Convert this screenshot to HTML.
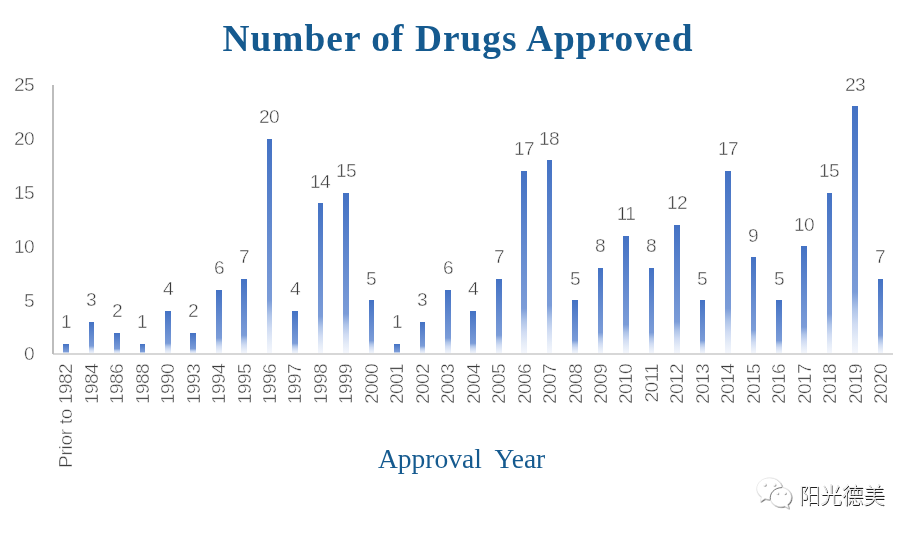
<!DOCTYPE html>
<html lang="en">
<head>
<meta charset="utf-8">
<title>Number of Drugs Approved</title>
<style>
html,body{margin:0;padding:0;background:#fff;}
body{width:916px;height:535px;position:relative;overflow:hidden;font-family:"Liberation Sans","Noto Sans CJK SC",sans-serif;}
#title,#xtitle,.num,.yt,.xl,#wm{will-change:transform;}
.num,.yt,.xl{font-size:19.2px;letter-spacing:-0.7px;line-height:20px;height:20px;color:#3b3b3b;-webkit-text-stroke:0.5px #fff;white-space:nowrap;}
#title{position:absolute;left:-0.3px;top:16.6px;width:916px;text-align:center;font-family:"Liberation Serif","Noto Serif CJK SC",serif;font-weight:bold;font-size:37.33px;line-height:44px;letter-spacing:1.06px;color:#155a8f;white-space:nowrap;}
#xtitle{position:absolute;left:378px;top:443px;font-family:"Liberation Serif","Noto Serif CJK SC",serif;font-size:27.5px;line-height:32px;color:#155a8f;white-space:pre;}
.ax{position:absolute;}
.bar{position:absolute;background:linear-gradient(to bottom,#4472c4 0%,#7b9cd8 75%,#b0c5e9 82%,#d0dcf3 88%,#e5ecf8 94%,#f6f8fd 100%);}
.num{position:absolute;width:40px;text-align:center;}
.yt{position:absolute;left:0;width:34px;text-align:right;}
.xl{position:absolute;width:130px;text-align:right;transform-origin:100% 0;transform:rotate(-90deg);}
#wm{position:absolute;left:798.6px;top:480.7px;font-family:"Liberation Sans","Noto Sans CJK SC",sans-serif;font-size:21.5px;line-height:30px;color:#fff;white-space:nowrap;font-weight:300;-webkit-text-stroke:0.2px #b0b0b0;text-shadow:0.85px 0.85px 0.3px rgba(0,0,0,.88);}
#wx{position:absolute;left:752px;top:474px;}
</style>
</head>
<body>
<div id="title">Number of Drugs Approved</div>

<div class="yt" style="top:75.05px">25</div>
<div class="yt" style="top:129.15px">20</div>
<div class="yt" style="top:183.05px">15</div>
<div class="yt" style="top:237.15px">10</div>
<div class="yt" style="top:291.05px">5</div>
<div class="yt" style="top:344.15px">0</div>
<div class="bar" style="left:63px;top:344px;width:6px;height:10px"></div>
<div class="bar" style="left:89px;top:322px;width:5px;height:32px"></div>
<div class="bar" style="left:114px;top:333px;width:6px;height:21px"></div>
<div class="bar" style="left:140px;top:344px;width:5px;height:10px"></div>
<div class="bar" style="left:165px;top:311px;width:6px;height:43px"></div>
<div class="bar" style="left:190px;top:333px;width:6px;height:21px"></div>
<div class="bar" style="left:216px;top:290px;width:6px;height:64px"></div>
<div class="bar" style="left:241px;top:279px;width:6px;height:75px"></div>
<div class="bar" style="left:267px;top:139px;width:5px;height:215px"></div>
<div class="bar" style="left:292px;top:311px;width:6px;height:43px"></div>
<div class="bar" style="left:318px;top:203px;width:5px;height:151px"></div>
<div class="bar" style="left:343px;top:193px;width:6px;height:161px"></div>
<div class="bar" style="left:369px;top:300px;width:5px;height:54px"></div>
<div class="bar" style="left:394px;top:344px;width:6px;height:10px"></div>
<div class="bar" style="left:420px;top:322px;width:5px;height:32px"></div>
<div class="bar" style="left:445px;top:290px;width:6px;height:64px"></div>
<div class="bar" style="left:470px;top:311px;width:6px;height:43px"></div>
<div class="bar" style="left:496px;top:279px;width:6px;height:75px"></div>
<div class="bar" style="left:521px;top:171px;width:6px;height:183px"></div>
<div class="bar" style="left:547px;top:160px;width:5px;height:194px"></div>
<div class="bar" style="left:572px;top:300px;width:6px;height:54px"></div>
<div class="bar" style="left:598px;top:268px;width:5px;height:86px"></div>
<div class="bar" style="left:623px;top:236px;width:6px;height:118px"></div>
<div class="bar" style="left:649px;top:268px;width:5px;height:86px"></div>
<div class="bar" style="left:674px;top:225px;width:6px;height:129px"></div>
<div class="bar" style="left:700px;top:300px;width:5px;height:54px"></div>
<div class="bar" style="left:725px;top:171px;width:6px;height:183px"></div>
<div class="bar" style="left:751px;top:257px;width:5px;height:97px"></div>
<div class="bar" style="left:776px;top:300px;width:6px;height:54px"></div>
<div class="bar" style="left:801px;top:246px;width:6px;height:108px"></div>
<div class="bar" style="left:827px;top:193px;width:5px;height:161px"></div>
<div class="bar" style="left:852px;top:106px;width:6px;height:248px"></div>
<div class="bar" style="left:878px;top:279px;width:5px;height:75px"></div>
<div class="ax" style="left:53px;top:353.1px;width:840px;height:1.8px;background:#d7d7d7"></div>
<div class="ax" style="left:52.1px;top:85px;width:1.9px;height:269.3px;background:#bdbdbd"></div>
<div class="num" style="left:45.70px;top:311.95px">1</div>
<div class="num" style="left:70.70px;top:289.95px">3</div>
<div class="num" style="left:96.70px;top:300.95px">2</div>
<div class="num" style="left:121.70px;top:311.95px">1</div>
<div class="num" style="left:147.70px;top:278.95px">4</div>
<div class="num" style="left:172.70px;top:300.95px">2</div>
<div class="num" style="left:198.70px;top:257.95px">6</div>
<div class="num" style="left:223.70px;top:246.95px">7</div>
<div class="num" style="left:248.70px;top:106.95px">20</div>
<div class="num" style="left:274.70px;top:278.95px">4</div>
<div class="num" style="left:299.70px;top:171.95px">14</div>
<div class="num" style="left:325.70px;top:160.95px">15</div>
<div class="num" style="left:350.70px;top:268.95px">5</div>
<div class="num" style="left:376.70px;top:311.95px">1</div>
<div class="num" style="left:401.70px;top:289.95px">3</div>
<div class="num" style="left:427.70px;top:257.95px">6</div>
<div class="num" style="left:452.70px;top:278.95px">4</div>
<div class="num" style="left:478.70px;top:246.95px">7</div>
<div class="num" style="left:503.70px;top:138.95px">17</div>
<div class="num" style="left:528.70px;top:128.95px">18</div>
<div class="num" style="left:554.70px;top:268.95px">5</div>
<div class="num" style="left:579.70px;top:235.95px">8</div>
<div class="num" style="left:605.70px;top:203.95px">11</div>
<div class="num" style="left:630.70px;top:235.95px">8</div>
<div class="num" style="left:656.70px;top:192.95px">12</div>
<div class="num" style="left:681.70px;top:268.95px">5</div>
<div class="num" style="left:707.70px;top:138.95px">17</div>
<div class="num" style="left:732.70px;top:225.95px">9</div>
<div class="num" style="left:758.70px;top:268.95px">5</div>
<div class="num" style="left:783.70px;top:214.95px">10</div>
<div class="num" style="left:808.70px;top:160.95px">15</div>
<div class="num" style="left:834.70px;top:74.95px">23</div>
<div class="num" style="left:859.70px;top:246.95px">7</div>
<div class="xl" style="left:-73.60px;top:364.20px"><span style="letter-spacing:-0.35px">Prior to </span>1982</div>
<div class="xl" style="left:-48.14px;top:364.20px">1984</div>
<div class="xl" style="left:-22.69px;top:364.20px">1986</div>
<div class="xl" style="left:2.77px;top:364.20px">1988</div>
<div class="xl" style="left:28.22px;top:364.20px">1990</div>
<div class="xl" style="left:53.67px;top:364.20px">1993</div>
<div class="xl" style="left:79.13px;top:364.20px">1994</div>
<div class="xl" style="left:104.59px;top:364.20px">1995</div>
<div class="xl" style="left:130.04px;top:364.20px">1996</div>
<div class="xl" style="left:155.49px;top:364.20px">1997</div>
<div class="xl" style="left:180.95px;top:364.20px">1998</div>
<div class="xl" style="left:206.40px;top:364.20px">1999</div>
<div class="xl" style="left:231.86px;top:364.20px">2000</div>
<div class="xl" style="left:257.31px;top:364.20px">2001</div>
<div class="xl" style="left:282.77px;top:364.20px">2002</div>
<div class="xl" style="left:308.22px;top:364.20px">2003</div>
<div class="xl" style="left:333.68px;top:364.20px">2004</div>
<div class="xl" style="left:359.13px;top:364.20px">2005</div>
<div class="xl" style="left:384.59px;top:364.20px">2006</div>
<div class="xl" style="left:410.04px;top:364.20px">2007</div>
<div class="xl" style="left:435.50px;top:364.20px">2008</div>
<div class="xl" style="left:460.95px;top:364.20px">2009</div>
<div class="xl" style="left:486.41px;top:364.20px">2010</div>
<div class="xl" style="left:511.86px;top:364.20px">2011</div>
<div class="xl" style="left:537.32px;top:364.20px">2012</div>
<div class="xl" style="left:562.77px;top:364.20px">2013</div>
<div class="xl" style="left:588.23px;top:364.20px">2014</div>
<div class="xl" style="left:613.68px;top:364.20px">2015</div>
<div class="xl" style="left:639.14px;top:364.20px">2016</div>
<div class="xl" style="left:664.59px;top:364.20px">2017</div>
<div class="xl" style="left:690.05px;top:364.20px">2018</div>
<div class="xl" style="left:715.50px;top:364.20px">2019</div>
<div class="xl" style="left:740.96px;top:364.20px">2020</div>
<div id="xtitle">Approval  Year</div>
<svg id="wx" width="46" height="40" viewBox="0 0 46 40">
<defs><filter id="sh" x="-20%" y="-20%" width="140%" height="140%"><feDropShadow dx="0.75" dy="0.75" stdDeviation="0.28" flood-color="#000" flood-opacity="0.78"/></filter></defs>
<g filter="url(#sh)" fill="#fff" stroke="#dcdcdc" stroke-width="0.5">
<path d="M17.4 3.900c-7 0-12.600 4.800-12.600 10.700 0 3.300 1.800 6.200 4.600 8.200l-1 4.700 4.600-2.900c1.400.5 2.900.7 4.400.7 7 0 12.600-4.800 12.600-10.700S24.400 3.900 17.400 3.900z"/>
<path d="M28.700 13.500c-5.800 0-10.500 4.300-10.500 9.600s4.700 9.600 10.500 9.600c1.400 0 2.700-.2 3.900-.7l3.900 2.300-.9-3.700c2.200-1.800 3.600-4.500 3.600-7.500 0-5.300-4.700-9.600-10.500-9.600z"/>
</g>
<path d="M18.300 25.200c-.9-5.800 4-11.400 11.300-11.600" fill="none" stroke="#555" stroke-width="0.9" stroke-linecap="round" opacity="0.85"/>
<g fill="#fff" filter="url(#sh)" opacity="0.8">
<circle cx="12.500" cy="10.500" r="1.200"/><circle cx="22.200" cy="10.500" r="1.200"/>
<circle cx="25.300" cy="19.100" r="1.050"/><circle cx="32.800" cy="19.100" r="1.050"/>
</g>
</svg>
<div id="wm">阳光德美</div>
</body>
</html>
